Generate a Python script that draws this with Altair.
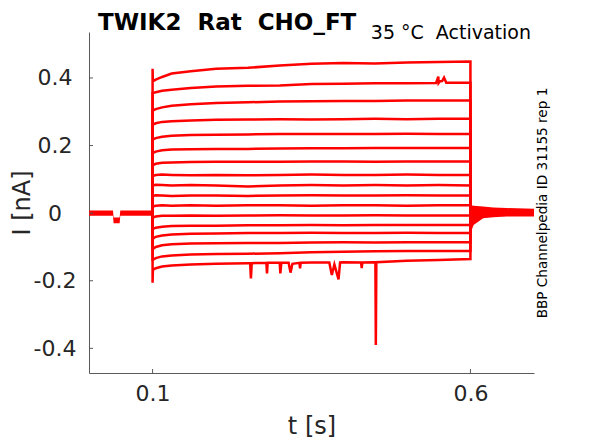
import altair as alt
import pandas as pd

# ---------------- text ----------------
TITLE = "TWIK2 \u00a0Rat \u00a0CHO_FT"
NOTE = "35 °C \u00a0Activation"
SIDE = "BBP Channelpedia ID 31155 rep 1"
X_TITLE = "t [s]"
Y_TITLE = "I [nA]"

# ---------------- axes ----------------
X_DOMAIN = [0.0, 0.7]
Y_DOMAIN = [-0.473, 0.536]
X_TICKS = [0.1, 0.6]
Y_TICKS = [-0.4, -0.2, 0, 0.2, 0.4]

# ---------------- step traces ----------------
STEP_ON = 0.1
STEP_OFF = 0.6
T = [0.1005, 0.105, 0.115, 0.13, 0.16, 0.2, 0.25, 0.3, 0.35, 0.4, 0.45, 0.5, 0.55, 0.6]

TRACE_01 = [0.390, 0.395, 0.403, 0.413, 0.420, 0.427, 0.430, 0.437, 0.442, 0.444, 0.443, 0.446, 0.447, 0.449]
TRACE_02 = [0.355, 0.358, 0.362, 0.365, 0.370, 0.375, 0.377, 0.378, 0.382, 0.383, 0.384, 0.384, 0.385, 0.386]
TRACE_03 = [0.304, 0.308, 0.313, 0.318, 0.322, 0.326, 0.328, 0.330, 0.331, 0.332, 0.332, 0.333, 0.333, 0.333]
TRACE_04 = [0.262, 0.266, 0.270, 0.272, 0.274, 0.276, 0.277, 0.278, 0.277, 0.278, 0.279, 0.278, 0.279, 0.279]
TRACE_05 = [0.218, 0.222, 0.226, 0.229, 0.231, 0.232, 0.233, 0.234, 0.234, 0.234, 0.234, 0.235, 0.234, 0.234]
TRACE_06 = [0.178, 0.182, 0.186, 0.188, 0.189, 0.190, 0.190, 0.191, 0.192, 0.192, 0.193, 0.193, 0.193, 0.193]
TRACE_07 = [0.142, 0.146, 0.149, 0.150, 0.151, 0.152, 0.152, 0.152, 0.153, 0.153, 0.152, 0.153, 0.153, 0.153]
TRACE_08 = [0.110, 0.113, 0.114, 0.113, 0.112, 0.113, 0.112, 0.113, 0.114, 0.113, 0.113, 0.114, 0.113, 0.113]
TRACE_09 = [0.082, 0.084, 0.083, 0.082, 0.083, 0.082, 0.079, 0.082, 0.083, 0.082, 0.083, 0.082, 0.083, 0.082]
TRACE_10 = [0.051, 0.053, 0.052, 0.051, 0.052, 0.052, 0.051, 0.052, 0.053, 0.052, 0.052, 0.053, 0.052, 0.052]
TRACE_11 = [0.020, 0.022, 0.023, 0.022, 0.023, 0.022, 0.023, 0.023, 0.022, 0.023, 0.023, 0.022, 0.023, 0.023]
TRACE_12 = [-0.013, -0.010, -0.008, -0.008, -0.007, -0.008, -0.007, -0.006, -0.007, -0.007, -0.006, -0.007, -0.007, -0.007]
TRACE_13 = [-0.047, -0.043, -0.040, -0.038, -0.037, -0.037, -0.036, -0.036, -0.035, -0.036, -0.035, -0.035, -0.035, -0.035]
TRACE_14 = [-0.076, -0.070, -0.066, -0.063, -0.061, -0.060, -0.059, -0.059, -0.058, -0.059, -0.059, -0.058, -0.059, -0.059]
TRACE_15 = [-0.106, -0.100, -0.095, -0.092, -0.090, -0.089, -0.088, -0.088, -0.087, -0.086, -0.087, -0.086, -0.086, -0.086]
TRACE_16 = [-0.138, -0.133, -0.128, -0.125, -0.122, -0.121, -0.120, -0.119, -0.116, -0.114, -0.113, -0.112, -0.112, -0.112]
TRACE_17 = [-0.168, -0.163, -0.158, -0.155, -0.152, -0.150, -0.148, -0.147, -0.146, -0.145, -0.145, -0.141, -0.139, -0.136]
TRACES = [TRACE_01, TRACE_02, TRACE_03, TRACE_04, TRACE_05, TRACE_06, TRACE_07, TRACE_08,
          TRACE_09, TRACE_10, TRACE_11, TRACE_12, TRACE_13, TRACE_14, TRACE_15, TRACE_16, TRACE_17]

# capacitive peak right at step onset (top and bottom traces)
ONSET_PEAK = [0.427, 0.355, 0.304, 0.262, 0.218, 0.178, 0.142, 0.110, 0.082, 0.051,
              0.020, -0.013, -0.047, -0.076, -0.106, -0.138, -0.206]

# small bump on trace 2
BUMP_T = [0.546, 0.5495, 0.552, 0.5555, 0.5585, 0.562]
BUMP_V = [0.385, 0.404, 0.390, 0.391, 0.401, 0.386]

# downward spikes on trace 17
SPIKE_T = [0.2535, 0.2547, 0.256, 0.279, 0.280, 0.281, 0.2995, 0.301, 0.3025,
           0.314, 0.317, 0.320, 0.331, 0.332, 0.333, 0.378, 0.382, 0.386, 0.3925, 0.395,
           0.428, 0.429, 0.430, 0.4505, 0.4512, 0.452]
SPIKE_V = [-0.148, -0.193, -0.148, -0.147, -0.178, -0.147, -0.147, -0.178, -0.147,
           -0.147, -0.176, -0.150, -0.147, -0.163, -0.147, -0.146, -0.183, -0.152, -0.196, -0.146,
           -0.146, -0.163, -0.146, -0.145, -0.390, -0.145]

# holding baseline before the step (noise band, with a small dip)
PRE_T = [0.0, 0.0377, 0.0387, 0.0482, 0.0492, 0.1]
PRE_HI = [0.008, 0.008, -0.013, -0.013, 0.008, 0.008]
PRE_LO = [-0.008, -0.008, -0.030, -0.030, -0.008, -0.008]

# tail after the step (noise band narrowing)
TAIL_T = [0.6, 0.601, 0.605, 0.62, 0.636, 0.657, 0.7]
TAIL_HI = [0.024, 0.023, 0.022, 0.020, 0.017, 0.015, 0.013]
TAIL_LO = [-0.075, -0.055, -0.035, -0.015, -0.012, -0.010, -0.010]

# ---------------- build tables ----------------
rows = []
for k, vals in enumerate(TRACES):
    pts = list(zip(T, vals))
    if k == 1:
        pts += list(zip(BUMP_T, BUMP_V))
    if k == 16:
        pts += list(zip(SPIKE_T, SPIKE_V))
    pts.sort(key=lambda p: p[0])
    seq = [(STEP_ON, 0.0), (STEP_ON, ONSET_PEAK[k])] + pts + [(STEP_OFF, 0.0)]
    for i, (t, v) in enumerate(seq):
        rows.append({"trace": k, "i": i, "t": t, "v": v})
traces_df = pd.DataFrame(rows)
pre_df = pd.DataFrame({"t": PRE_T, "v": PRE_HI, "v2": PRE_LO})
tail_df = pd.DataFrame({"t": TAIL_T, "v": TAIL_HI, "v2": TAIL_LO})

W, H = 445, 341
RED = "#ff0000"
AX = "#5a5a5a"
TXT = "#262626"
FONT = "DejaVu Sans"

x_enc = alt.X(
    "t:Q",
    scale=alt.Scale(domain=X_DOMAIN, nice=False, zero=False),
    axis=alt.Axis(values=X_TICKS, title=X_TITLE, ticks=False, tickSize=0, grid=False,
                  labelFontSize=22, titleFontSize=24, labelPadding=10,
                  domainColor=AX, labelColor=TXT, titleColor=TXT, titleFontWeight="normal",
                  labelFont=FONT, titleFont=FONT, titleY=41, titleBaseline="top",
                  labelExpr="'' + datum.value", labelFlush=False),
)
y_enc = alt.Y(
    "v:Q",
    scale=alt.Scale(domain=Y_DOMAIN, nice=False, zero=False),
    axis=alt.Axis(values=Y_TICKS, title=Y_TITLE, ticks=False, tickSize=0, grid=False,
                  labelFontSize=22, titleFontSize=24, labelPadding=34.5, labelAlign="center",
                  domainColor=AX, labelColor=TXT, titleColor=TXT, titleFontWeight="normal",
                  labelFont=FONT, titleFont=FONT, titleX=-60, titleY=H / 2,
                  titleBaseline="alphabetic", titleAngle=270,
                  labelExpr="'' + datum.value", labelFlush=False),
)

lines = alt.Chart(traces_df).mark_line(color=RED, strokeWidth=2.5, clip=True).encode(
    x=x_enc, y=y_enc, detail="trace:N", order="i:Q"
)
pre = alt.Chart(pre_df).mark_area(color=RED, opacity=1).encode(
    x=x_enc, y=y_enc, y2="v2:Q"
)
tail = alt.Chart(tail_df).mark_area(color=RED, opacity=1).encode(
    x=x_enc, y=y_enc, y2="v2:Q"
)
ytick = alt.Chart(pd.DataFrame({"v": Y_TICKS})).mark_rule(color=AX, strokeWidth=1).encode(
    y=y_enc, x=alt.value(0), x2=alt.value(4)
)
xtick = alt.Chart(pd.DataFrame({"t": X_TICKS})).mark_rule(color=AX, strokeWidth=1).encode(
    x=x_enc, y=alt.value(H), y2=alt.value(H - 4)
)
title = alt.Chart(pd.DataFrame({"s": [TITLE]})).mark_text(
    font=FONT, fontSize=23, fontWeight="bold", align="left", baseline="alphabetic", color="#000000"
).encode(text="s:N", x=alt.value(9), y=alt.value(-2.5))
note = alt.Chart(pd.DataFrame({"s": [NOTE]})).mark_text(
    font=FONT, fontSize=19, align="right", baseline="alphabetic", color="#000000"
).encode(text="s:N", x=alt.value(442), y=alt.value(7.3))
side = alt.Chart(pd.DataFrame({"s": [SIDE]})).mark_text(
    font=FONT, fontSize=13.6, align="center", baseline="alphabetic", angle=270, color="#000000"
).encode(text="s:N", x=alt.value(457.8), y=alt.value(171))

chart = alt.layer(pre, tail, lines, ytick, xtick, title, note, side).properties(
    width=W, height=H,
    autosize=alt.AutoSizeParams(type="none"),
    padding={"left": 81, "top": 24, "right": 40, "bottom": 68},
).configure_view(stroke=None).configure_axis(domainWidth=1)

chart.save("out.html", embed_options={"renderer": "svg", "actions": False})
